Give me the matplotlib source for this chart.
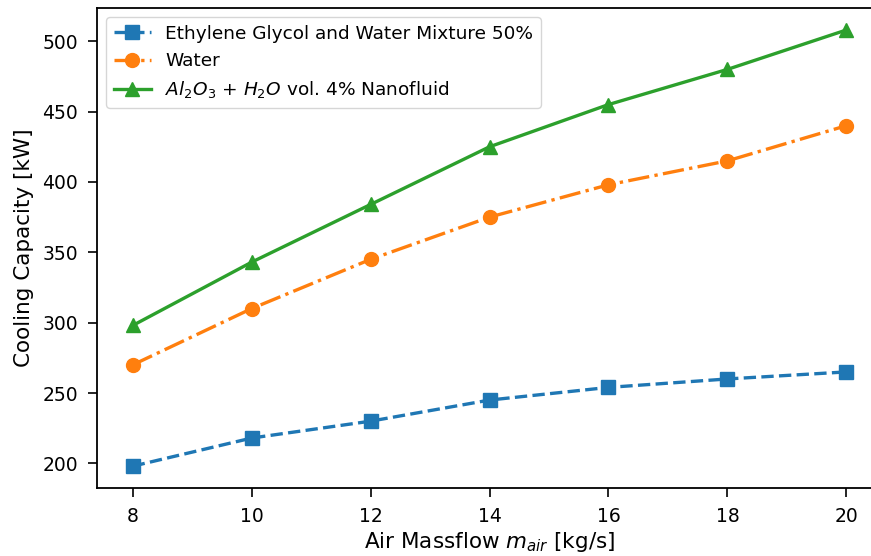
import matplotlib
matplotlib.use("Agg")
import matplotlib.pyplot as plt

# air massflow [kg/s]
massflow = [8, 10, 12, 14, 16, 18, 20]

# cooling capacity [kW]
glycol = [198, 218, 230, 245, 254, 260, 265]
water = [270, 310, 345, 375, 398, 415, 440]
nanofluid = [298, 343, 384, 425, 455, 480, 508]

fig = plt.figure(figsize=(8.71, 5.56), dpi=100)
ax = fig.add_axes([0.1114, 0.1223, 0.9013, 0.863])

ax.plot(massflow, glycol, linestyle='--', marker='s', color='tab:blue',
        linewidth=2.4, markersize=10, label='Ethylene Glycol and Water Mixture 50%')
ax.plot(massflow, water, linestyle='-.', marker='o', color='tab:orange',
        linewidth=2.4, markersize=10, label='Water')
ax.plot(massflow, nanofluid, linestyle='-', marker='^', color='tab:green',
        linewidth=2.4, markersize=10, label=r'$Al_2O_3$ + $H_2O$ vol. 4% Nanofluid')

ax.set_xlim(7.4, 20.6)
ax.set_ylim(182.5, 523.5)
ax.set_xticks(massflow)
ax.set_yticks([200, 250, 300, 350, 400, 450, 500])
ax.tick_params(labelsize=13.5, length=6.5, width=1.2, pad=7)
for s in ax.spines.values():
    s.set_linewidth(1.3)
ax.spines['right'].set_visible(False)  # right edge is cropped off in the original
ax.set_xlabel(r'Air Massflow $m_{air}$ [kg/s]', fontsize=15.5, labelpad=3)
ax.set_ylabel('Cooling Capacity [kW]', fontsize=15.5, labelpad=6)
ax.legend(loc='upper left', fontsize=13.3)

fig.savefig('out.png', dpi=100)
